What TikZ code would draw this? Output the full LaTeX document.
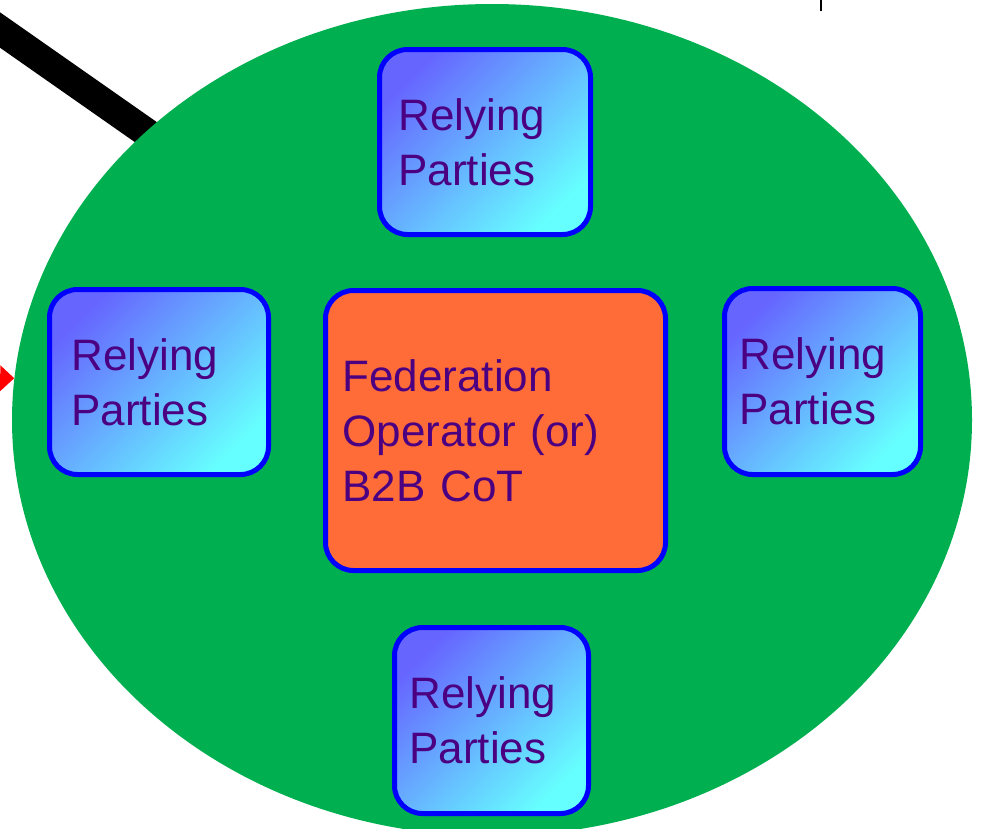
\documentclass[tikz,border=0pt]{standalone}
\usepackage{fontspec}
\setmainfont{Liberation Sans}
\usetikzlibrary{shapes.geometric}
\usetikzlibrary{arrows.meta, positioning}
\definecolor{fedgreen}{RGB}{0,176,80}
\definecolor{oporange}{RGB}{255,108,56}
\definecolor{rpdark}{RGB}{102,102,255}
\definecolor{rplight}{RGB}{102,255,255}
\definecolor{labelpurple}{RGB}{75,0,130}

\begin{document}
\begin{tikzpicture}[x=1pt, y=-1pt,
    box/.style={draw=blue, line width=5pt, rounded corners=28pt,
        inner xsep=15pt, inner ysep=0pt, align=left,
        text=labelpurple, font=\fontsize{44}{55}\selectfont},
    party/.style={box, top color=rpdark, bottom color=rplight,
        shading angle=45},
    operator/.style={box, fill=oporange}]
    \useasboundingbox (0,0) rectangle (981,828);
    \clip (0,0) rectangle (981,828);

    \coordinate (cable in) at (-20,16);
    \coordinate (cable end) at (300,240);
    \draw[line width=29pt] (cable in) -- (cable end);

    \node[ellipse, fill=fedgreen, inner sep=0pt,
        minimum width=960pt, minimum height=832pt] (fed) at (492,420) {};

    \coordinate (arrow in) at (-40,378);
    \draw[red, line width=9pt, -{Triangle[length=14pt,width=25pt]}] (arrow in) -- (fed.175.4);

    \coordinate (tick top) at (821,-5);
    \coordinate (tick bottom) at (821,11);
    \draw[line width=2.5pt] (tick top) -- (tick bottom);

    \node[operator, inner xsep=17pt, text width=306pt, minimum height=280pt] (op) at (495.5,430.5)
        {Federation\\Operator (or)\\B2B CoT};
    \node[party, inner xsep=19pt, text width=173pt, minimum height=185pt] (rp-n) at (485,142)
        {Relying\\Parties};
    \node[party, inner xsep=22pt, text width=175pt, minimum height=185pt] (rp-w) at (159,382)
        {Relying\\Parties};
    \node[party, text width=166pt, minimum height=186pt] (rp-e) at (822.5,381.5)
        {Relying\\Parties};
    \node[party, text width=164pt, minimum height=186pt] (rp-s) at (491.5,720.5)
        {Relying\\Parties};

\end{tikzpicture}
\end{document}
